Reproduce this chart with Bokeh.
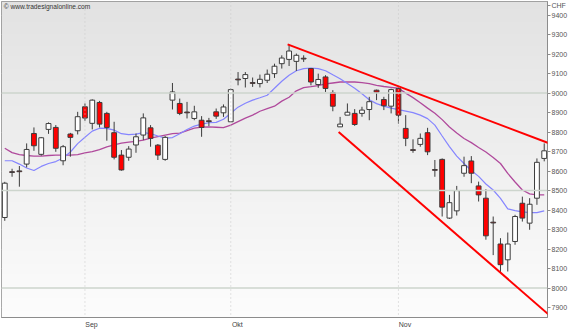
from bokeh.plotting import figure
from bokeh.models import FixedTicker, Span, Label, Arrow, ColumnDataSource, Range1d
from bokeh.embed import file_html
from bokeh.resources import INLINE
import numpy as np

# ---- data ----
month_labels = ["Sep", "Okt", "Nov"]
month_index = [11, 31, 54]
y_ticks = list(range(7900, 9401, 100))
major_levels = [8000, 8500, 9000]
unit_label = "CHF"

opens = [8362, 8597, 8601, 8636, 8793, 8686, 8814, 8824, 8653, 8790,
         8807, 8930, 8845, 8952, 8896, 8797, 8682, 8671, 8734, 8785,
         8822, 8733, 8660, 8964, 8947, 8903, 8870, 8861, 8858, 8904,
         8899, 8853, 9072, 9075, 9054, 9049, 9066, 9100, 9151, 9173,
         9163, 9179, 9126, 9044, 9083, 9003, 8827, 8887, 8896, 8896,
         8916, 9015, 8967, 8933, 9023, 8819, 8710, 8737, 8797, 8608,
         8660, 8359, 8396, 8589, 8652, 8524, 8461, 8338, 8226, 8145,
         8239, 8435, 8333, 8461, 8665]
highs = [8545, 8612, 8626, 8742, 8824, 8775, 8850, 8836, 8734, 8796,
         8904, 8947, 8968, 8960, 8904, 8853, 8708, 8728, 8793, 8896,
         8836, 8739, 8780, 9052, 8972, 8955, 8935, 8882, 8873, 8921,
         8942, 9023, 9108, 9108, 9080, 9095, 9121, 9151, 9194, 9249,
         9203, 9194, 9129, 9100, 9092, 9015, 8878, 8947, 8918, 8930,
         8981, 9018, 8981, 9023, 9028, 8887, 8763, 8793, 8822, 8657,
         8665, 8478, 8524, 8674, 8677, 8546, 8507, 8367, 8256, 8285,
         8376, 8469, 8461, 8665, 8742]
lows = [8345, 8571, 8520, 8619, 8704, 8679, 8791, 8699, 8630, 8674,
        8788, 8858, 8814, 8824, 8756, 8660, 8602, 8653, 8694, 8759,
        8725, 8657, 8653, 8916, 8887, 8870, 8861, 8776, 8831, 8868,
        8878, 8853, 9040, 9029, 9032, 9029, 9052, 9078, 9126, 9139,
        9114, 9160, 9040, 9027, 9006, 8907, 8827, 8887, 8832, 8879,
        8861, 8964, 8913, 8896, 8844, 8728, 8694, 8725, 8682, 8571,
        8367, 8355, 8372, 8571, 8538, 8444, 8248, 8169, 8080, 8085,
        8222, 8341, 8299, 8427, 8650]
closes = [8538, 8593, 8597, 8711, 8730, 8771, 8844, 8717, 8725, 8773,
          8879, 8872, 8964, 8841, 8824, 8671, 8606, 8713, 8776, 8873,
          8768, 8682, 8773, 9006, 8896, 8899, 8904, 8824, 8854, 8882,
          8929, 9018, 9068, 9095, 9050, 9071, 9097, 9138, 9180, 9216,
          9194, 9175, 9057, 9070, 9024, 8933, 8841, 8902, 8839, 8913,
          8956, 9005, 8935, 9018, 8887, 8768, 8706, 8768, 8699, 8604,
          8415, 8438, 8500, 8628, 8589, 8478, 8268, 8334, 8120, 8226,
          8367, 8359, 8430, 8645, 8704]
ma_fast = [8653, 8653, 8636, 8616, 8603, 8624, 8639, 8649, 8667, 8698,
           8741, 8774, 8805, 8820, 8819, 8810, 8792, 8787, 8790, 8797,
           8792, 8780, 8769, 8772, 8792, 8813, 8831, 8841, 8848, 8850,
           8866, 8897, 8928, 8948, 8964, 8976, 8989, 9025, 9061, 9092,
           9115, 9126, 9129, 9126, 9115, 9094, 9074, 9049, 9025, 8997,
           8966, 8946, 8933, 8923, 8915, 8908, 8900, 8887, 8869, 8836,
           8780, 8726, 8677, 8639, 8603, 8573, 8534, 8503, 8460, 8406,
           8397, 8391, 8387, 8387, 8396]
ma_slow = [8717, 8695, 8685, 8680, 8677, 8677, 8680, 8682, 8682, 8682,
           8685, 8693, 8700, 8710, 8724, 8734, 8744, 8749, 8753, 8759,
           8769, 8777, 8785, 8792, 8795, 8808, 8820, 8826, 8827, 8825,
           8823, 8836, 8854, 8872, 8887, 8907, 8920, 8933, 8959, 8979,
           9012, 9028, 9033, 9039, 9047, 9052, 9057, 9057, 9057, 9054,
           9049, 9040, 9034, 9030, 9025, 9000, 8977, 8951, 8923, 8897,
           8864, 8826, 8795, 8767, 8746, 8721, 8698, 8670, 8639, 8588,
           8544, 8503, 8483, 8478, 8478]
trend_upper_x = [38.8, 77.6]
trend_upper_y = [9250, 8701]
trend_lower_x = [45.8, 76.7]
trend_lower_y = [8801, 7796]

# ---- figure ----
X0, X1 = -0.45, 74.45
Y0, Y1 = 7849, 9470
p = figure(width=570, height=330, output_backend="svg", toolbar_location=None,
           x_range=Range1d(X0, X1), y_range=Range1d(Y0, Y1),
           y_axis_location="right", min_border_left=1, min_border_top=1,
           min_border_right=23, min_border_bottom=12)
p.background_fill_color = "#f2f2f2"
p.border_fill_color = "white"
p.outline_line_color = "#8c8c8c"
p.outline_line_width = 1

# gradient background
n = 128
img = np.empty((n, 1), dtype=np.uint32)
view = img.view(dtype=np.uint8).reshape((n, 1, 4))
for k in range(n):
    t = k / (n - 1)  # 0 bottom -> 1 top
    c = int(round(252 - (252 - 226) * t))
    view[k, 0, :] = [c, c, c, 255]
p.image_rgba(image=[img], x=X0, y=Y0, dw=X1 - X0, dh=Y1 - Y0)

# grids
p.xgrid.visible = False
p.ygrid.ticker = FixedTicker(ticks=y_ticks)
p.ygrid.grid_line_color = "#c4c4c4"
p.ygrid.grid_line_dash = "1 3"
p.ygrid.grid_line_width = 1
for lv in major_levels:
    p.add_layout(Span(location=lv, dimension="width", line_color="#cdd5cd", line_width=1.5))
for mi in month_index:
    p.add_layout(Span(location=mi, dimension="height", line_color="#c8c8c8",
                      line_width=1, line_dash="1 3"))

# axes
unit_pos = Y1 - 18
ya = p.yaxis[0]
ya.ticker = FixedTicker(ticks=y_ticks + [unit_pos])
ya.major_label_overrides = {unit_pos: unit_label}
ya.axis_line_color = "#8c8c8c"
ya.major_tick_line_color = "#8c8c8c"
ya.major_tick_out = 3
ya.major_tick_in = 0
ya.minor_tick_line_color = None
ya.major_label_text_font = "Liberation Sans"
ya.major_label_text_font_size = "7px"
ya.major_label_text_color = "#555555"
ya.major_label_standoff = 1

label_shift = 0.9
xa = p.xaxis[0]
xa.ticker = FixedTicker(ticks=[m + label_shift for m in month_index])
xa.major_label_overrides = {m + label_shift: l for m, l in zip(month_index, month_labels)}
xa.axis_line_color = "#8c8c8c"
xa.major_tick_line_color = None
xa.major_tick_out = 0
xa.major_tick_in = 0
xa.minor_tick_line_color = None
xa.major_label_text_font = "Liberation Sans"
xa.major_label_text_font_size = "7px"
xa.major_label_text_color = "#444444"
xa.major_label_standoff = 3

# moving averages
idx = list(range(len(closes)))
p.line(idx, ma_slow, line_color="#b04a9c", line_width=1.3)
p.line(idx, ma_fast, line_color="#8585ff", line_width=1.2)

# candles
up = [c >= o for o, c in zip(opens, closes)]
src = ColumnDataSource(dict(
    x=idx, high=highs, low=lows,
    top=[max(o, c) for o, c in zip(opens, closes)],
    bottom=[min(o, c) for o, c in zip(opens, closes)],
    fill=["#ffffff" if u else "#ff0000" for u in up],
))
p.segment(x0="x", y0="low", x1="x", y1="high", source=src, line_color="#3c3c3c", line_width=1)
p.vbar(x="x", top="top", bottom="bottom", width=0.66, source=src,
       fill_color="fill", line_color="#3c3c3c", line_width=1)

# trend lines
for tx, ty in ((trend_upper_x, trend_upper_y), (trend_lower_x, trend_lower_y)):
    p.add_layout(Arrow(end=None, x_start=tx[0], y_start=ty[0], x_end=tx[1], y_end=ty[1],
                       line_color="#ff0000", line_width=2))

# copyright text
p.add_layout(Label(x=X0 + 0.3, y=9444, text="\u00a9 www.tradesignalonline.com",
                   text_font="Liberation Sans", text_font_size="6.6px",
                   text_color="#333333", text_baseline="middle"))

open("out.html", "w").write(file_html(p, INLINE))
